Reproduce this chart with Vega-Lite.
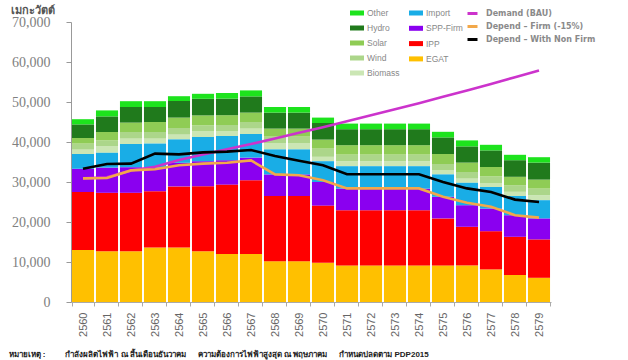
{
  "$schema": "https://vega.github.io/schema/vega-lite/v6.json",
  "width": 480,
  "height": 280,
  "autosize": "none",
  "padding": {"left": 71, "top": 22, "right": 77, "bottom": 58},
  "background": "white",
  "config": {
    "view": {"stroke": null},
    "font": "Liberation Sans",
    "axis": {"grid": false}
  },
  "datasets": {
    "bars": [
      {"year": 2560, "type": "EGAT", "value": 13000}, {"year": 2560, "type": "IPP", "value": 14500}, {"year": 2560, "type": "SPP-Firm", "value": 5800}, {"year": 2560, "type": "Import", "value": 3700}, {"year": 2560, "type": "Biomass", "value": 1100}, {"year": 2560, "type": "Wind", "value": 1500}, {"year": 2560, "type": "Solar", "value": 1400}, {"year": 2560, "type": "Hydro", "value": 3400}, {"year": 2560, "type": "Other", "value": 1300},
      {"year": 2561, "type": "EGAT", "value": 12700}, {"year": 2561, "type": "IPP", "value": 14600}, {"year": 2561, "type": "SPP-Firm", "value": 6300}, {"year": 2561, "type": "Import", "value": 3700}, {"year": 2561, "type": "Biomass", "value": 1600}, {"year": 2561, "type": "Wind", "value": 1500}, {"year": 2561, "type": "Solar", "value": 2100}, {"year": 2561, "type": "Hydro", "value": 3900}, {"year": 2561, "type": "Other", "value": 1500},
      {"year": 2562, "type": "EGAT", "value": 12700}, {"year": 2562, "type": "IPP", "value": 14600}, {"year": 2562, "type": "SPP-Firm", "value": 6400}, {"year": 2562, "type": "Import", "value": 5800}, {"year": 2562, "type": "Biomass", "value": 1350}, {"year": 2562, "type": "Wind", "value": 1650}, {"year": 2562, "type": "Solar", "value": 2350}, {"year": 2562, "type": "Hydro", "value": 3900}, {"year": 2562, "type": "Other", "value": 1450},
      {"year": 2563, "type": "EGAT", "value": 13600}, {"year": 2563, "type": "IPP", "value": 14100}, {"year": 2563, "type": "SPP-Firm", "value": 5900}, {"year": 2563, "type": "Import", "value": 6000}, {"year": 2563, "type": "Biomass", "value": 1250}, {"year": 2563, "type": "Wind", "value": 1650}, {"year": 2563, "type": "Solar", "value": 2500}, {"year": 2563, "type": "Hydro", "value": 3750}, {"year": 2563, "type": "Other", "value": 1450},
      {"year": 2564, "type": "EGAT", "value": 13600}, {"year": 2564, "type": "IPP", "value": 15300}, {"year": 2564, "type": "SPP-Firm", "value": 5900}, {"year": 2564, "type": "Import", "value": 5850}, {"year": 2564, "type": "Biomass", "value": 1200}, {"year": 2564, "type": "Wind", "value": 1650}, {"year": 2564, "type": "Solar", "value": 2600}, {"year": 2564, "type": "Hydro", "value": 4150}, {"year": 2564, "type": "Other", "value": 1200},
      {"year": 2565, "type": "EGAT", "value": 12700}, {"year": 2565, "type": "IPP", "value": 16250}, {"year": 2565, "type": "SPP-Firm", "value": 6250}, {"year": 2565, "type": "Import", "value": 6050}, {"year": 2565, "type": "Biomass", "value": 1400}, {"year": 2565, "type": "Wind", "value": 1500}, {"year": 2565, "type": "Solar", "value": 2500}, {"year": 2565, "type": "Hydro", "value": 4150}, {"year": 2565, "type": "Other", "value": 1250},
      {"year": 2566, "type": "EGAT", "value": 12000}, {"year": 2566, "type": "IPP", "value": 17350}, {"year": 2566, "type": "SPP-Firm", "value": 6100}, {"year": 2566, "type": "Import", "value": 6050}, {"year": 2566, "type": "Biomass", "value": 1250}, {"year": 2566, "type": "Wind", "value": 1500}, {"year": 2566, "type": "Solar", "value": 2450}, {"year": 2566, "type": "Hydro", "value": 4150}, {"year": 2566, "type": "Other", "value": 1400},
      {"year": 2567, "type": "EGAT", "value": 12000}, {"year": 2567, "type": "IPP", "value": 18450}, {"year": 2567, "type": "SPP-Firm", "value": 5650}, {"year": 2567, "type": "Import", "value": 5900}, {"year": 2567, "type": "Biomass", "value": 1350}, {"year": 2567, "type": "Wind", "value": 1650}, {"year": 2567, "type": "Solar", "value": 2350}, {"year": 2567, "type": "Hydro", "value": 4050}, {"year": 2567, "type": "Other", "value": 1500},
      {"year": 2568, "type": "EGAT", "value": 10200}, {"year": 2568, "type": "IPP", "value": 16300}, {"year": 2568, "type": "SPP-Firm", "value": 5400}, {"year": 2568, "type": "Import", "value": 6250}, {"year": 2568, "type": "Biomass", "value": 1500}, {"year": 2568, "type": "Wind", "value": 1700}, {"year": 2568, "type": "Solar", "value": 2000}, {"year": 2568, "type": "Hydro", "value": 4000}, {"year": 2568, "type": "Other", "value": 1400},
      {"year": 2569, "type": "EGAT", "value": 10200}, {"year": 2569, "type": "IPP", "value": 16300}, {"year": 2569, "type": "SPP-Firm", "value": 5400}, {"year": 2569, "type": "Import", "value": 6250}, {"year": 2569, "type": "Biomass", "value": 1500}, {"year": 2569, "type": "Wind", "value": 1700}, {"year": 2569, "type": "Solar", "value": 2000}, {"year": 2569, "type": "Hydro", "value": 4000}, {"year": 2569, "type": "Other", "value": 1400},
      {"year": 2570, "type": "EGAT", "value": 9800}, {"year": 2570, "type": "IPP", "value": 14300}, {"year": 2570, "type": "SPP-Firm", "value": 5900}, {"year": 2570, "type": "Import", "value": 5200}, {"year": 2570, "type": "Biomass", "value": 1100}, {"year": 2570, "type": "Wind", "value": 2050}, {"year": 2570, "type": "Solar", "value": 2250}, {"year": 2570, "type": "Hydro", "value": 4150}, {"year": 2570, "type": "Other", "value": 1350},
      {"year": 2571, "type": "EGAT", "value": 9150}, {"year": 2571, "type": "IPP", "value": 13800}, {"year": 2571, "type": "SPP-Firm", "value": 5400}, {"year": 2571, "type": "Import", "value": 5600}, {"year": 2571, "type": "Biomass", "value": 1250}, {"year": 2571, "type": "Wind", "value": 1650}, {"year": 2571, "type": "Solar", "value": 2350}, {"year": 2571, "type": "Hydro", "value": 4000}, {"year": 2571, "type": "Other", "value": 1400},
      {"year": 2572, "type": "EGAT", "value": 9150}, {"year": 2572, "type": "IPP", "value": 13800}, {"year": 2572, "type": "SPP-Firm", "value": 5400}, {"year": 2572, "type": "Import", "value": 5600}, {"year": 2572, "type": "Biomass", "value": 1250}, {"year": 2572, "type": "Wind", "value": 1650}, {"year": 2572, "type": "Solar", "value": 2350}, {"year": 2572, "type": "Hydro", "value": 4000}, {"year": 2572, "type": "Other", "value": 1400},
      {"year": 2573, "type": "EGAT", "value": 9150}, {"year": 2573, "type": "IPP", "value": 13800}, {"year": 2573, "type": "SPP-Firm", "value": 5400}, {"year": 2573, "type": "Import", "value": 5600}, {"year": 2573, "type": "Biomass", "value": 1250}, {"year": 2573, "type": "Wind", "value": 1650}, {"year": 2573, "type": "Solar", "value": 2350}, {"year": 2573, "type": "Hydro", "value": 4000}, {"year": 2573, "type": "Other", "value": 1400},
      {"year": 2574, "type": "EGAT", "value": 9150}, {"year": 2574, "type": "IPP", "value": 13800}, {"year": 2574, "type": "SPP-Firm", "value": 5400}, {"year": 2574, "type": "Import", "value": 5600}, {"year": 2574, "type": "Biomass", "value": 1250}, {"year": 2574, "type": "Wind", "value": 1650}, {"year": 2574, "type": "Solar", "value": 2350}, {"year": 2574, "type": "Hydro", "value": 4000}, {"year": 2574, "type": "Other", "value": 1400},
      {"year": 2575, "type": "EGAT", "value": 9150}, {"year": 2575, "type": "IPP", "value": 11750}, {"year": 2575, "type": "SPP-Firm", "value": 5400}, {"year": 2575, "type": "Import", "value": 5600}, {"year": 2575, "type": "Biomass", "value": 1100}, {"year": 2575, "type": "Wind", "value": 1500}, {"year": 2575, "type": "Solar", "value": 2500}, {"year": 2575, "type": "Hydro", "value": 4150}, {"year": 2575, "type": "Other", "value": 1400},
      {"year": 2576, "type": "EGAT", "value": 9150}, {"year": 2576, "type": "IPP", "value": 9650}, {"year": 2576, "type": "SPP-Firm", "value": 5400}, {"year": 2576, "type": "Import", "value": 5600}, {"year": 2576, "type": "Biomass", "value": 1050}, {"year": 2576, "type": "Wind", "value": 1650}, {"year": 2576, "type": "Solar", "value": 2350}, {"year": 2576, "type": "Hydro", "value": 4050}, {"year": 2576, "type": "Other", "value": 1500},
      {"year": 2577, "type": "EGAT", "value": 8150}, {"year": 2577, "type": "IPP", "value": 9550}, {"year": 2577, "type": "SPP-Firm", "value": 5650}, {"year": 2577, "type": "Import", "value": 5400}, {"year": 2577, "type": "Biomass", "value": 1000}, {"year": 2577, "type": "Wind", "value": 1650}, {"year": 2577, "type": "Solar", "value": 2350}, {"year": 2577, "type": "Hydro", "value": 4150}, {"year": 2577, "type": "Other", "value": 1400},
      {"year": 2578, "type": "EGAT", "value": 6750}, {"year": 2578, "type": "IPP", "value": 9550}, {"year": 2578, "type": "SPP-Firm", "value": 5400}, {"year": 2578, "type": "Import", "value": 4800}, {"year": 2578, "type": "Biomass", "value": 1050}, {"year": 2578, "type": "Wind", "value": 1650}, {"year": 2578, "type": "Solar", "value": 2100}, {"year": 2578, "type": "Hydro", "value": 4150}, {"year": 2578, "type": "Other", "value": 1350},
      {"year": 2579, "type": "EGAT", "value": 6050}, {"year": 2579, "type": "IPP", "value": 9600}, {"year": 2579, "type": "SPP-Firm", "value": 5250}, {"year": 2579, "type": "Import", "value": 4550}, {"year": 2579, "type": "Biomass", "value": 1250}, {"year": 2579, "type": "Wind", "value": 1650}, {"year": 2579, "type": "Solar", "value": 2250}, {"year": 2579, "type": "Hydro", "value": 4250}, {"year": 2579, "type": "Other", "value": 1350}
    ],
    "lines": [
      {"year": 2560, "series": "Demand (BAU)", "value": 30900}, {"year": 2561, "series": "Demand (BAU)", "value": 31200}, {"year": 2562, "series": "Demand (BAU)", "value": 32900}, {"year": 2563, "series": "Demand (BAU)", "value": 33800}, {"year": 2564, "series": "Demand (BAU)", "value": 35500}, {"year": 2565, "series": "Demand (BAU)", "value": 36900}, {"year": 2566, "series": "Demand (BAU)", "value": 38200}, {"year": 2567, "series": "Demand (BAU)", "value": 39500}, {"year": 2568, "series": "Demand (BAU)", "value": 40900}, {"year": 2569, "series": "Demand (BAU)", "value": 42300}, {"year": 2570, "series": "Demand (BAU)", "value": 43700}, {"year": 2571, "series": "Demand (BAU)", "value": 45200}, {"year": 2572, "series": "Demand (BAU)", "value": 46700}, {"year": 2573, "series": "Demand (BAU)", "value": 48200}, {"year": 2574, "series": "Demand (BAU)", "value": 49700}, {"year": 2575, "series": "Demand (BAU)", "value": 51300}, {"year": 2576, "series": "Demand (BAU)", "value": 52900}, {"year": 2577, "series": "Demand (BAU)", "value": 54500}, {"year": 2578, "series": "Demand (BAU)", "value": 56200}, {"year": 2579, "series": "Demand (BAU)", "value": 57900},
      {"year": 2560, "series": "Depend – Firm (-15%)", "value": 30900}, {"year": 2561, "series": "Depend – Firm (-15%)", "value": 31000}, {"year": 2562, "series": "Depend – Firm (-15%)", "value": 32900}, {"year": 2563, "series": "Depend – Firm (-15%)", "value": 33200}, {"year": 2564, "series": "Depend – Firm (-15%)", "value": 34200}, {"year": 2565, "series": "Depend – Firm (-15%)", "value": 34600}, {"year": 2566, "series": "Depend – Firm (-15%)", "value": 34800}, {"year": 2567, "series": "Depend – Firm (-15%)", "value": 35400}, {"year": 2568, "series": "Depend – Firm (-15%)", "value": 31900}, {"year": 2569, "series": "Depend – Firm (-15%)", "value": 31700}, {"year": 2570, "series": "Depend – Firm (-15%)", "value": 30450}, {"year": 2571, "series": "Depend – Firm (-15%)", "value": 28400}, {"year": 2572, "series": "Depend – Firm (-15%)", "value": 28400}, {"year": 2573, "series": "Depend – Firm (-15%)", "value": 28400}, {"year": 2574, "series": "Depend – Firm (-15%)", "value": 28400}, {"year": 2575, "series": "Depend – Firm (-15%)", "value": 26300}, {"year": 2576, "series": "Depend – Firm (-15%)", "value": 24800}, {"year": 2577, "series": "Depend – Firm (-15%)", "value": 23800}, {"year": 2578, "series": "Depend – Firm (-15%)", "value": 21700}, {"year": 2579, "series": "Depend – Firm (-15%)", "value": 21100},
      {"year": 2560, "series": "Depend – With Non Firm", "value": 33300}, {"year": 2561, "series": "Depend – With Non Firm", "value": 34500}, {"year": 2562, "series": "Depend – With Non Firm", "value": 34600}, {"year": 2563, "series": "Depend – With Non Firm", "value": 37100}, {"year": 2564, "series": "Depend – With Non Firm", "value": 36900}, {"year": 2565, "series": "Depend – With Non Firm", "value": 37400}, {"year": 2566, "series": "Depend – With Non Firm", "value": 37600}, {"year": 2567, "series": "Depend – With Non Firm", "value": 38000}, {"year": 2568, "series": "Depend – With Non Firm", "value": 36500}, {"year": 2569, "series": "Depend – With Non Firm", "value": 35300}, {"year": 2570, "series": "Depend – With Non Firm", "value": 34200}, {"year": 2571, "series": "Depend – With Non Firm", "value": 31950}, {"year": 2572, "series": "Depend – With Non Firm", "value": 31950}, {"year": 2573, "series": "Depend – With Non Firm", "value": 31950}, {"year": 2574, "series": "Depend – With Non Firm", "value": 31950}, {"year": 2575, "series": "Depend – With Non Firm", "value": 30000}, {"year": 2576, "series": "Depend – With Non Firm", "value": 28400}, {"year": 2577, "series": "Depend – With Non Firm", "value": 27500}, {"year": 2578, "series": "Depend – With Non Firm", "value": 25600}, {"year": 2579, "series": "Depend – With Non Firm", "value": 25000}
    ]
  },
  "encoding": {
    "x": {
      "field": "year", "type": "ordinal",
      "scale": {"paddingInner": 0.08, "paddingOuter": 0.04},
      "axis": {
        "labelAngle": 270, "labelFontSize": 11, "labelColor": "#666666", "labelPadding": 6,
        "tickBand": "extent", "tickSize": 4, "tickColor": "#aaaaaa", "domainColor": "#aaaaaa",
        "title": "หมายเหตุ :\u2003\u2003\u2002กำลังผลิตไฟฟ้า ณ สิ้นเดือนธันวาคม\u2003\u2002ความต้องการไฟฟ้าสูงสุด ณ พฤษภาคม\u2003\u2002กำหนดปลดตาม PDP2015",
        "titleX": -63, "titleY": 54, "titleAlign": "left", "titleBaseline": "alphabetic", "titleAngle": 0,
        "titleFontSize": 8, "titleFontWeight": "bold", "titleColor": "#222222", "titleAnchor": null
      }
    },
    "y": {
      "type": "quantitative",
      "scale": {"domain": [0, 70000], "nice": false},
      "axis": {
        "values": [0, 10000, 20000, 30000, 40000, 50000, 60000, 70000], "format": ",d",
        "labelFont": "Liberation Sans Narrow", "labelFontSize": 14, "labelColor": "#808080", "labelPadding": 16,
        "tickSize": 5, "tickColor": "#999999", "domainColor": "#999999",
        "title": "เมกะวัตต์", "titleX": -61, "titleY": -9, "titleAlign": "left", "titleBaseline": "alphabetic", "titleAngle": 0,
        "titleFontSize": 11, "titleFontWeight": "bold", "titleColor": "#555555"
      }
    }
  },
  "layer": [
    {
      "data": {"name": "bars"},
      "transform": [
        {"calculate": "indexof(['EGAT','IPP','SPP-Firm','Import','Biomass','Wind','Solar','Hydro','Other'], datum.type)", "as": "ord"},
        {"stack": "value", "groupby": ["year"], "sort": [{"field": "ord", "order": "ascending"}], "as": ["v0", "v1"]},
        {"filter": {"field": "type", "oneOf": ["Other", "Hydro", "Solar", "Wind", "Biomass"]}}
      ],
      "mark": {"type": "bar"},
      "encoding": {
        "y": {"field": "v0"},
        "y2": {"field": "v1"},
        "color": {
          "field": "type", "type": "nominal",
          "scale": {"domain": ["Other", "Hydro", "Solar", "Wind", "Biomass"], "range": ["#1de31d", "#207a1c", "#8fcc55", "#acd68a", "#cbe6b4"]},
          "legend": {
            "orient": "none", "legendX": 281, "legendY": -14, "title": null, "padding": 0,
            "symbolType": "M-1.4,-0.5H1.4V0.5H-1.4Z", "symbolSize": 100, "symbolStrokeWidth": 0,
            "labelFontSize": 8.5, "labelColor": "#888888", "labelOffset": 5, "rowPadding": 5
          }
        }
      }
    },
    {
      "data": {"name": "bars"},
      "transform": [
        {"calculate": "indexof(['EGAT','IPP','SPP-Firm','Import','Biomass','Wind','Solar','Hydro','Other'], datum.type)", "as": "ord"},
        {"stack": "value", "groupby": ["year"], "sort": [{"field": "ord", "order": "ascending"}], "as": ["v0", "v1"]},
        {"filter": {"field": "type", "oneOf": ["Import", "SPP-Firm", "IPP", "EGAT"]}}
      ],
      "mark": {"type": "bar"},
      "encoding": {
        "y": {"field": "v0"},
        "y2": {"field": "v1"},
        "color": {
          "field": "type", "type": "nominal",
          "scale": {"domain": ["Import", "SPP-Firm", "IPP", "EGAT"], "range": ["#19ade6", "#8a00f0", "#ff0000", "#ffc000"]},
          "legend": {
            "orient": "none", "legendX": 340, "legendY": -14, "title": null, "padding": 0,
            "symbolType": "M-1.4,-0.5H1.4V0.5H-1.4Z", "symbolSize": 100, "symbolStrokeWidth": 0,
            "labelFontSize": 8.5, "labelColor": "#888888", "labelOffset": 5, "rowPadding": 5.3
          }
        }
      }
    },
    {
      "data": {"name": "lines"},
      "mark": {"type": "line", "strokeWidth": 2.6},
      "encoding": {
        "y": {"field": "value"},
        "color": {
          "field": "series", "type": "nominal",
          "scale": {"domain": ["Demand (BAU)", "Depend – Firm (-15%)", "Depend – With Non Firm"], "range": ["#cc33cc", "#f2a84a", "#000000"]},
          "legend": {
            "orient": "none", "legendX": 395, "legendY": -15, "title": null, "padding": 0,
            "symbolType": "stroke", "symbolSize": 100, "symbolStrokeWidth": 3,
            "labelFont": "DejaVu Sans", "labelFontWeight": "bold", "labelFontSize": 8, "labelColor": "#8a8a8a", "labelOffset": 7, "rowPadding": 0
          }
        }
      }
    }
  ],
  "resolve": {"scale": {"color": "independent"}}
}
